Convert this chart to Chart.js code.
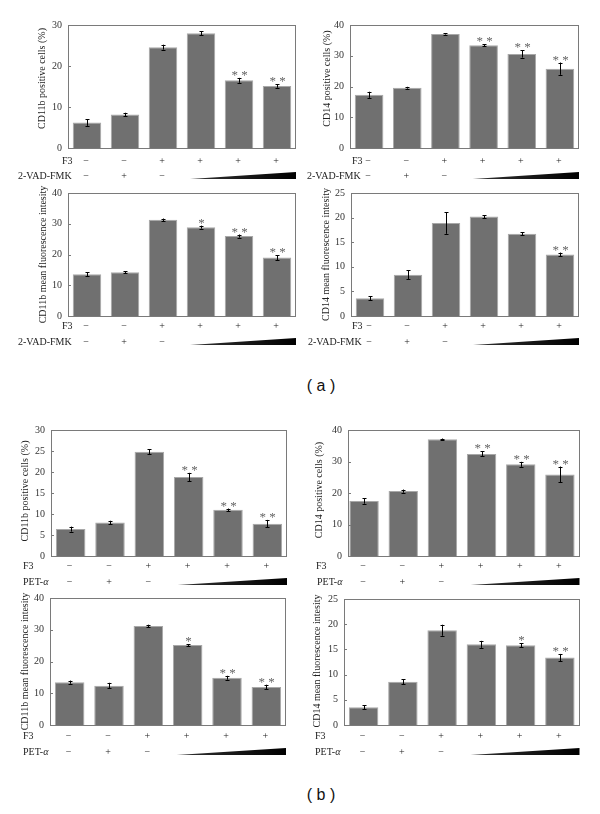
<!DOCTYPE html>
<html>
<head>
<meta charset="UTF-8">
<title>CD11b and CD14</title>
<script src="https://cdn.jsdelivr.net/npm/chart.js@4.4.0/dist/chart.umd.min.js"></script>
<style>
  body { margin: 0; background: #fff; width: 600px; height: 814px; position: relative; overflow: hidden; }
  canvas { position: absolute; }
  .tag { position: absolute; width: 80px; text-align: center; font: 16px "Liberation Sans", sans-serif; color: #111; }
</style>
</head>
<body>
<div class="tag" style="left:281px;top:377px">( a )</div>
<div class="tag" style="left:281px;top:786px">( b )</div>
<script>
// six treatment groups per panel
var groups = ['g1', 'g2', 'g3', 'g4', 'g5', 'g6'];
var f3Row = ['\u2212', '\u2212', '+', '+', '+', '+'];
var drugRow = ['\u2212', '+', '\u2212', '', '', ''];

// (a) 2-VAD-FMK
var cd11bPctA = [6.2, 8.2, 24.6, 28.0, 16.5, 15.1];
var cd11bPctAErr = [0.8, 0.4, 0.6, 0.5, 0.6, 0.4];
var cd11bPctAStar = ['', '', '', '', '**', '**'];

var cd14PctA = [17.3, 19.6, 37.1, 33.4, 30.6, 25.8];
var cd14PctAErr = [1.0, 0.3, 0.2, 0.3, 1.2, 2.0];
var cd14PctAStar = ['', '', '', '**', '**', '**'];

var cd11bMfiA = [13.6, 14.2, 31.3, 28.9, 26.0, 19.0];
var cd11bMfiAErr = [0.7, 0.3, 0.4, 0.5, 0.5, 0.8];
var cd11bMfiAStar = ['', '', '', '*', '**', '**'];

var cd14MfiA = [3.6, 8.4, 18.9, 20.2, 16.7, 12.5];
var cd14MfiAErr = [0.4, 0.9, 2.2, 0.3, 0.3, 0.4];
var cd14MfiAStar = ['', '', '', '', '', '**'];

// (b) PET-alpha
var cd11bPctB = [6.4, 8.0, 24.8, 18.8, 11.0, 7.7];
var cd11bPctBErr = [0.6, 0.4, 0.6, 1.0, 0.3, 0.9];
var cd11bPctBStar = ['', '', '', '**', '**', '**'];

var cd14PctB = [17.5, 20.6, 37.1, 32.4, 29.1, 25.9];
var cd14PctBErr = [0.9, 0.5, 0.2, 0.8, 0.8, 2.5];
var cd14PctBStar = ['', '', '', '**', '**', '**'];

var cd11bMfiB = [13.5, 12.4, 31.2, 25.2, 14.9, 12.0];
var cd11bMfiBErr = [0.5, 0.9, 0.4, 0.3, 0.6, 0.7];
var cd11bMfiBStar = ['', '', '', '*', '**', '**'];

var cd14MfiB = [3.5, 8.6, 18.8, 16.0, 15.8, 13.4];
var cd14MfiBErr = [0.4, 0.5, 1.1, 0.7, 0.4, 0.7];
var cd14MfiBStar = ['', '', '', '', '*', '**'];

var serif = '"Liberation Serif", "Times New Roman", serif';

// layout of each small panel, page pixels: plot = [left, top, right, bottom] of the bar area
var panels = [
  { id: 'p1', vals: cd11bPctA, err: cd11bPctAErr, star: cd11bPctAStar, max: 30, step: 10, title: 'CD11b positive cells (%)',
    cx: 0, plot: [68, 25, 296, 148], titleX: 42, titleDy: -8, rows: [161, 176], drug: '2-VAD-FMK', labX: [62, 18] },
  { id: 'p2', vals: cd14PctA, err: cd14PctAErr, star: cd14PctAStar, max: 40, step: 10, title: 'CD14 positive cells (%)',
    cx: 300, plot: [350, 25, 579, 148], titleX: 327, titleDy: -8, rows: [161, 176], drug: '2-VAD-FMK', labX: [352, 307] },
  { id: 'p3', vals: cd11bMfiA, err: cd11bMfiAErr, star: cd11bMfiAStar, max: 40, step: 10, title: 'CD11b mean fluorescence intesity',
    cx: 0, plot: [68, 193, 296, 316], titleX: 43, titleDy: 0, rows: [326, 342], drug: '2-VAD-FMK', labX: [62, 18] },
  { id: 'p4', vals: cd14MfiA, err: cd14MfiAErr, star: cd14MfiAStar, max: 25, step: 5, title: 'CD14 mean fluorescence intesity',
    cx: 300, plot: [351, 193, 579, 316], titleX: 326, titleDy: 0, rows: [326, 342], drug: '2-VAD-FMK', labX: [352, 308] },
  { id: 'p5', vals: cd11bPctB, err: cd11bPctBErr, star: cd11bPctBStar, max: 30, step: 5, title: 'CD11b positive cells (%)',
    cx: 0, plot: [51, 430, 287, 556], titleX: 25, titleDy: -2, rows: [566, 582], drug: 'PET-', labX: [23, 23] },
  { id: 'p6', vals: cd14PctB, err: cd14PctBErr, star: cd14PctBStar, max: 40, step: 10, title: 'CD14 positive cells (%)',
    cx: 300, plot: [344.5, 430, 579.5, 556], frameL: 348, titleX: 319, titleDy: -3, rows: [566, 582], drug: 'PET-', labX: [316, 317] },
  { id: 'p7', vals: cd11bMfiB, err: cd11bMfiBErr, star: cd11bMfiBStar, max: 40, step: 10, title: 'CD11b mean fluorescence intesity',
    cx: 0, plot: [50, 598, 286, 725], titleX: 25, titleDy: 0, rows: [736, 752], drug: 'PET-', labX: [23, 23] },
  { id: 'p8', vals: cd14MfiB, err: cd14MfiBErr, star: cd14MfiBStar, max: 25, step: 5, title: 'CD14 mean fluorescence intesity',
    cx: 300, plot: [344, 599, 579.5, 725], titleX: 317, titleDy: -1, rows: [736, 752], drug: 'PET-', labX: [315, 315] }
];

function extras(p, cy) {
  return {
    id: 'extras_' + p.id,
    afterDatasetsDraw: function (chart) {
      var ctx = chart.ctx, x = chart.scales.x, y = chart.scales.y;
      ctx.save();
      ctx.strokeStyle = '#000';
      ctx.lineWidth = 1;
      for (var i = 0; i < p.vals.length; i++) {
        var cxp = Math.round(x.getPixelForValue(i)) + 0.5;
        var hi = y.getPixelForValue(p.vals[i] + p.err[i]);
        var lo = y.getPixelForValue(p.vals[i] - p.err[i]);
        ctx.beginPath();
        ctx.moveTo(cxp, hi); ctx.lineTo(cxp, lo);
        ctx.moveTo(cxp - 2, Math.round(hi) + 0.5); ctx.lineTo(cxp + 2, Math.round(hi) + 0.5);
        ctx.moveTo(cxp - 2, Math.round(lo) + 0.5); ctx.lineTo(cxp + 2, Math.round(lo) + 0.5);
        ctx.stroke();
        if (p.star[i]) {
          ctx.fillStyle = '#666';
          ctx.font = '13px ' + serif;
          ctx.textAlign = 'center';
          ctx.textBaseline = 'alphabetic';
          ctx.fillText(p.star[i].split('').join(' '), cxp, hi + 1);
        }
      }
      ctx.restore();
    },
    afterDraw: function (chart) {
      var ctx = chart.ctx, a = chart.chartArea, x = chart.scales.x, y = chart.scales.y;
      var fl = (p.frameL !== undefined ? p.frameL - p.cx : a.left);
      ctx.save();
      // frame
      ctx.strokeStyle = '#7a7a7a';
      ctx.lineWidth = 1;
      ctx.strokeRect(Math.round(fl) + 0.5, Math.round(a.top) + 0.5, Math.round(a.right - fl) - 1, Math.round(a.bottom - a.top));
      // inward ticks
      ctx.beginPath();
      y.ticks.forEach(function (t) {
        var ty = Math.round(y.getPixelForValue(t.value)) + 0.5;
        ctx.moveTo(fl, ty); ctx.lineTo(fl + 3, ty);
      });
      ctx.stroke();
      // y title
      ctx.save();
      ctx.translate(p.titleX - p.cx, (a.top + a.bottom) / 2 + p.titleDy);
      ctx.rotate(-Math.PI / 2);
      ctx.fillStyle = '#222';
      ctx.font = '10px ' + serif;
      ctx.textAlign = 'center';
      ctx.textBaseline = 'middle';
      ctx.fillText(p.title, 0, 0);
      ctx.restore();
      // treatment rows
      var r1 = p.rows[0] - cy, r2 = p.rows[1] - cy;
      ctx.fillStyle = '#222';
      ctx.font = '10px ' + serif;
      ctx.textBaseline = 'middle';
      ctx.textAlign = 'left';
      ctx.fillText('F3', p.labX[0] - p.cx, r1);
      if (p.drug === 'PET-') {
        ctx.fillText('PET-', p.labX[1] - p.cx, r2);
        var w = ctx.measureText('PET-').width;
        ctx.font = 'italic 10px ' + serif;
        ctx.fillText('\u03b1', p.labX[1] - p.cx + w, r2);
        ctx.font = '10px ' + serif;
      } else {
        ctx.fillText(p.drug, p.labX[1] - p.cx, r2);
      }
      ctx.textAlign = 'center';
      for (var i = 0; i < groups.length; i++) {
        var gx = x.getPixelForValue(i) - 1;
        ctx.fillText(f3Row[i], gx, r1);
        if (drugRow[i]) ctx.fillText(drugRow[i], gx, r2);
      }
      // dose wedge
      var x0 = x.getPixelForValue(3) - 11;
      var grad = ctx.createLinearGradient(x0, 0, a.right, 0);
      grad.addColorStop(0, '#333');
      grad.addColorStop(1, '#000');
      ctx.fillStyle = grad;
      ctx.beginPath();
      ctx.moveTo(x0, r2 + 3);
      ctx.lineTo(a.right, r2 - 4);
      ctx.lineTo(a.right, r2 + 3);
      ctx.closePath();
      ctx.fill();
      ctx.restore();
    }
  };
}

panels.forEach(function (p) {
  var cy = p.plot[1] - 12;
  var ch = p.rows[1] - cy + 14;
  var c = document.createElement('canvas');
  c.width = 300; c.height = ch;
  c.style.left = p.cx + 'px';
  c.style.top = cy + 'px';
  c.style.width = '300px';
  c.style.height = ch + 'px';
  document.body.appendChild(c);

  var axisW = p.plot[0] - p.cx;
  var shift = (p.frameL !== undefined ? p.frameL - p.plot[0] : 0);

  new Chart(c.getContext('2d'), {
    type: 'bar',
    data: {
      labels: groups,
      datasets: [{
        data: p.vals,
        backgroundColor: '#707070',
        borderColor: '#a8a8a8',
        borderWidth: 1,
        barPercentage: 0.75,
        categoryPercentage: 1.0
      }]
    },
    options: {
      responsive: false,
      animation: false,
      events: [],
      layout: { padding: { left: 0, top: p.plot[1] - cy, right: p.cx + 300 - p.plot[2], bottom: ch - (p.plot[3] - cy) } },
      plugins: { legend: { display: false }, tooltip: { enabled: false } },
      scales: {
        x: { display: false },
        y: {
          min: 0, max: p.max,
          afterFit: function (s) { s.width = axisW; },
          ticks: { stepSize: p.step, padding: 6 - shift, color: '#333', font: { family: serif, size: 10 } },
          grid: { display: false, drawTicks: false },
          border: { display: false }
        }
      }
    },
    plugins: [extras(p, cy)]
  });
});
</script>
</body>
</html>
